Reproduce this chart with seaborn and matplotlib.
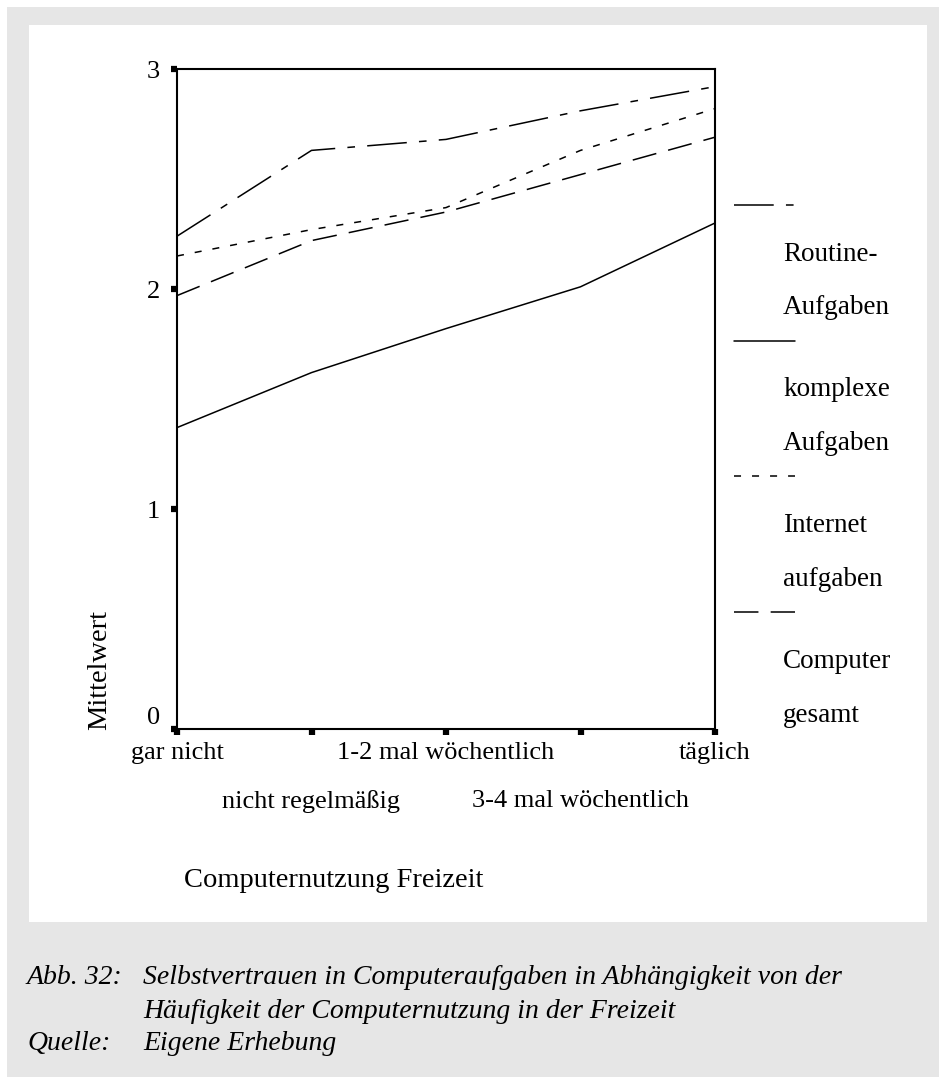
import matplotlib.pyplot as plt
import pandas as pd
import seaborn as sns
from matplotlib.lines import Line2D
from matplotlib.patches import Rectangle

# Werte
kategorien = ["gar nicht", "nicht regelmäßig", "1-2 mal wöchentlich",
              "3-4 mal wöchentlich", "täglich"]
routine = [2.24, 2.63, 2.68, 2.81, 2.92]
komplex = [1.37, 1.62, 1.82, 2.01, 2.30]
internet = [2.15, 2.27, 2.37, 2.63, 2.82]
gesamt = [1.97, 2.22, 2.35, 2.52, 2.69]

reihen = ["Routine", "komplex", "Internet", "gesamt"]
legenden_text = [["Routine-", "Aufgaben"], ["komplexe", "Aufgaben"],
                 ["Internet", "aufgaben"], ["Computer", "gesamt"]]
y_ticks = [0, 1, 2, 3]

striche = {"Routine": (26, 8, 5, 8), "komplex": "", "Internet": (4.6, 7.2), "gesamt": (16, 8)}

df = pd.DataFrame({
    "pos": list(range(len(kategorien))) * 4,
    "wert": routine + komplex + internet + gesamt,
    "reihe": [r for r in reihen for _ in kategorien],
})

sns.set_style("white")
plt.rcParams["font.family"] = ["Liberation Serif", "DejaVu Serif"]
plt.rcParams["text.color"] = "black"
plt.rcParams["axes.labelcolor"] = "black"
plt.rcParams["xtick.color"] = "black"
plt.rcParams["ytick.color"] = "black"

W, H = 939, 1077
fig = plt.figure(figsize=(W / 100, H / 100), dpi=100, facecolor="#e6e6e6")


def fx(px):
    return px / W


def fy(py):
    return 1 - py / H


# Rahmen / Hintergrund
fig.patches.append(Rectangle((0, fy(7)), 1, 7 / H, transform=fig.transFigure,
                             facecolor="white", edgecolor="none", zorder=-10))
fig.patches.append(Rectangle((0, 0), 7 / W, 1, transform=fig.transFigure,
                             facecolor="white", edgecolor="none", zorder=-10))
fig.patches.append(Rectangle((fx(29), fy(922)), (927 - 29) / W, (922 - 25) / H,
                             transform=fig.transFigure, facecolor="white",
                             edgecolor="none", zorder=-9))

ax = fig.add_axes([fx(177), fy(729), (715 - 177) / W, (729 - 69) / H])
ax.set_facecolor("white")

sns.lineplot(data=df, x="pos", y="wert", style="reihe", style_order=reihen,
             dashes=striche, color="black", lw=1.1, legend=False, ax=ax)

ax.set_xlim(0, 4)
ax.set_ylim(0, 3)
ax.set_xticks(range(len(kategorien)))
ax.set_xticklabels(kategorien)
ax.set_yticks(y_ticks)
ax.set_yticklabels([str(t) for t in y_ticks])
for sp in ax.spines.values():
    sp.set_visible(True)
    sp.set_linewidth(1.5)
    sp.set_color("black")

ax.tick_params(axis="both", direction="out", length=4.5, width=4.5, color="black",
               labelsize=19, labelcolor="black", bottom=True, left=True)
ax.tick_params(axis="y", pad=8)
for i, tick in enumerate(ax.xaxis.get_major_ticks()):
    tick.set_pad(5 if i % 2 == 0 else 39.5)
ax.get_yticklabels()[0].set_va("bottom")

ax.set_xlabel("Computernutzung Freizeit", fontsize=20.5, va="center", color="black")
ax.xaxis.set_label_coords(0.292, -0.229)
ax.set_ylabel("Mittelwert", fontsize=20.5, va="center", color="black")
ax.yaxis.set_label_coords(-0.143, 0.09)

# Legende rechts neben dem Diagramm
leg_y = [205, 341, 476, 612]
for name, ly, txt in zip(reihen, leg_y, legenden_text):
    kw = {"dashes": striche[name]} if striche[name] else {"linestyle": "-"}
    fig.add_artist(Line2D([fx(734), fx(795)], [fy(ly), fy(ly)], transform=fig.transFigure,
                          color="black", lw=1.1, **kw))
    fig.text(fx(783), fy(ly + 49), txt[0], fontsize=19.5, va="center", ha="left")
    fig.text(fx(783), fy(ly + 103), txt[1], fontsize=19.5, va="center", ha="left")

# Bildunterschrift
fig.text(fx(27), fy(978), "Abb. 32:", fontsize=20, style="italic", va="center")
fig.text(fx(143), fy(978), "Selbstvertrauen in Computeraufgaben in Abhängigkeit von der",
         fontsize=20, style="italic", va="center")
fig.text(fx(143), fy(1011), "Häufigkeit der Computernutzung in der Freizeit",
         fontsize=20, style="italic", va="center")
fig.text(fx(27), fy(1044), "Quelle:", fontsize=20, style="italic", va="center")
fig.text(fx(143), fy(1044), "Eigene Erhebung", fontsize=20, style="italic", va="center")

fig.savefig("out.png", dpi=100, facecolor=fig.get_facecolor())
plt.close(fig)
